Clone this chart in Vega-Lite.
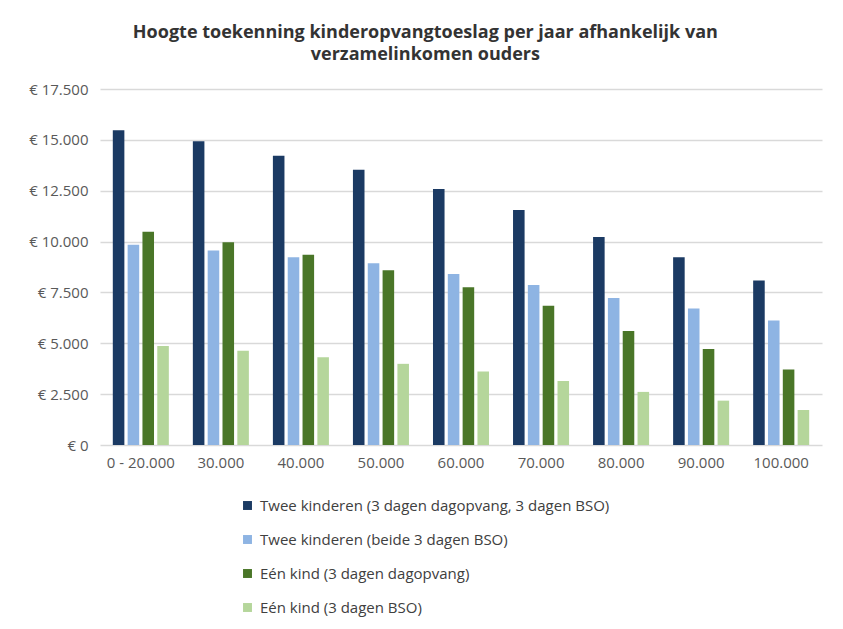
{
  "$schema": "https://vega.github.io/schema/vega-lite/v6.json",
  "width": 722,
  "height": 356,
  "autosize": "none",
  "padding": {"left": 100, "top": 89, "right": 21, "bottom": 184},
  "background": "white",
  "config": {
    "locale": {"number": {"decimal": ",", "thousands": ".", "grouping": [3], "currency": ["€ ", ""]}},
    "view": {"stroke": null},
    "font": "Open Sans"
  },
  "title": {
    "text": ["Hoogte toekenning kinderopvangtoeslag per jaar afhankelijk van", "verzamelinkomen ouders"],
    "anchor": "middle",
    "frame": "bounds",
    "font": "Open Sans",
    "fontSize": 18,
    "fontWeight": "bold",
    "color": "#333333",
    "lineHeight": 22,
    "offset": 18
  },
  "data": {
    "values": [
      {"inkomen": "0 - 20.000", "serie": "Twee kinderen (3 dagen dagopvang, 3 dagen BSO)", "bedrag": 15470},
      {"inkomen": "0 - 20.000", "serie": "Twee kinderen (beide 3 dagen BSO)", "bedrag": 9840},
      {"inkomen": "0 - 20.000", "serie": "Eén kind (3 dagen dagopvang)", "bedrag": 10480},
      {"inkomen": "0 - 20.000", "serie": "Eén kind (3 dagen BSO)", "bedrag": 4870},
      {"inkomen": "30.000", "serie": "Twee kinderen (3 dagen dagopvang, 3 dagen BSO)", "bedrag": 14930},
      {"inkomen": "30.000", "serie": "Twee kinderen (beide 3 dagen BSO)", "bedrag": 9560},
      {"inkomen": "30.000", "serie": "Eén kind (3 dagen dagopvang)", "bedrag": 9970},
      {"inkomen": "30.000", "serie": "Eén kind (3 dagen BSO)", "bedrag": 4630},
      {"inkomen": "40.000", "serie": "Twee kinderen (3 dagen dagopvang, 3 dagen BSO)", "bedrag": 14220},
      {"inkomen": "40.000", "serie": "Twee kinderen (beide 3 dagen BSO)", "bedrag": 9230},
      {"inkomen": "40.000", "serie": "Eén kind (3 dagen dagopvang)", "bedrag": 9350},
      {"inkomen": "40.000", "serie": "Eén kind (3 dagen BSO)", "bedrag": 4310},
      {"inkomen": "50.000", "serie": "Twee kinderen (3 dagen dagopvang, 3 dagen BSO)", "bedrag": 13530},
      {"inkomen": "50.000", "serie": "Twee kinderen (beide 3 dagen BSO)", "bedrag": 8940},
      {"inkomen": "50.000", "serie": "Eén kind (3 dagen dagopvang)", "bedrag": 8590},
      {"inkomen": "50.000", "serie": "Eén kind (3 dagen BSO)", "bedrag": 3990},
      {"inkomen": "60.000", "serie": "Twee kinderen (3 dagen dagopvang, 3 dagen BSO)", "bedrag": 12580},
      {"inkomen": "60.000", "serie": "Twee kinderen (beide 3 dagen BSO)", "bedrag": 8410},
      {"inkomen": "60.000", "serie": "Eén kind (3 dagen dagopvang)", "bedrag": 7760},
      {"inkomen": "60.000", "serie": "Eén kind (3 dagen BSO)", "bedrag": 3610},
      {"inkomen": "70.000", "serie": "Twee kinderen (3 dagen dagopvang, 3 dagen BSO)", "bedrag": 11550},
      {"inkomen": "70.000", "serie": "Twee kinderen (beide 3 dagen BSO)", "bedrag": 7860},
      {"inkomen": "70.000", "serie": "Eén kind (3 dagen dagopvang)", "bedrag": 6840},
      {"inkomen": "70.000", "serie": "Eén kind (3 dagen BSO)", "bedrag": 3150},
      {"inkomen": "80.000", "serie": "Twee kinderen (3 dagen dagopvang, 3 dagen BSO)", "bedrag": 10220},
      {"inkomen": "80.000", "serie": "Twee kinderen (beide 3 dagen BSO)", "bedrag": 7220},
      {"inkomen": "80.000", "serie": "Eén kind (3 dagen dagopvang)", "bedrag": 5610},
      {"inkomen": "80.000", "serie": "Eén kind (3 dagen BSO)", "bedrag": 2610},
      {"inkomen": "90.000", "serie": "Twee kinderen (3 dagen dagopvang, 3 dagen BSO)", "bedrag": 9230},
      {"inkomen": "90.000", "serie": "Twee kinderen (beide 3 dagen BSO)", "bedrag": 6710},
      {"inkomen": "90.000", "serie": "Eén kind (3 dagen dagopvang)", "bedrag": 4720},
      {"inkomen": "90.000", "serie": "Eén kind (3 dagen BSO)", "bedrag": 2180},
      {"inkomen": "100.000", "serie": "Twee kinderen (3 dagen dagopvang, 3 dagen BSO)", "bedrag": 8090},
      {"inkomen": "100.000", "serie": "Twee kinderen (beide 3 dagen BSO)", "bedrag": 6120},
      {"inkomen": "100.000", "serie": "Eén kind (3 dagen dagopvang)", "bedrag": 3710},
      {"inkomen": "100.000", "serie": "Eén kind (3 dagen BSO)", "bedrag": 1720}
    ]
  },
  "mark": {"type": "bar"},
  "encoding": {
    "x": {
      "field": "inkomen",
      "type": "nominal",
      "sort": null,
      "scale": {"paddingInner": 0.3, "paddingOuter": 0.16},
      "axis": {
        "title": null,
        "labelAngle": 0,
        "labelFontSize": 15,
        "labelColor": "#595959",
        "labelPadding": 10,
        "ticks": false,
        "domain": false
      }
    },
    "xOffset": {
      "field": "serie",
      "type": "nominal",
      "sort": null,
      "scale": {"paddingInner": 0.22}
    },
    "y": {
      "field": "bedrag",
      "type": "quantitative",
      "scale": {"domain": [0, 17500], "nice": false},
      "axis": {
        "title": null,
        "values": [0, 2500, 5000, 7500, 10000, 12500, 15000, 17500],
        "format": "$,.0f",
        "labelFontSize": 15,
        "labelColor": "#595959",
        "labelPadding": 12,
        "ticks": false,
        "domain": false,
        "gridColor": "#d9d9d9",
        "gridWidth": 1.5
      }
    },
    "color": {
      "field": "serie",
      "type": "nominal",
      "sort": null,
      "scale": {
        "domain": ["Twee kinderen (3 dagen dagopvang, 3 dagen BSO)", "Twee kinderen (beide 3 dagen BSO)", "Eén kind (3 dagen dagopvang)", "Eén kind (3 dagen BSO)"],
        "range": ["#1b3a63", "#8eb4e3", "#4a7628", "#b5d69b"]
      },
      "legend": {
        "title": null,
        "orient": "none",
        "legendX": 140,
        "legendY": 409,
        "direction": "vertical",
        "symbolType": "square",
        "symbolSize": 80,
        "symbolStrokeWidth": 0,
        "labelFontSize": 15,
        "labelColor": "#404040",
        "labelLimit": 500,
        "rowPadding": 18,
        "labelOffset": 5
      }
    }
  }
}
